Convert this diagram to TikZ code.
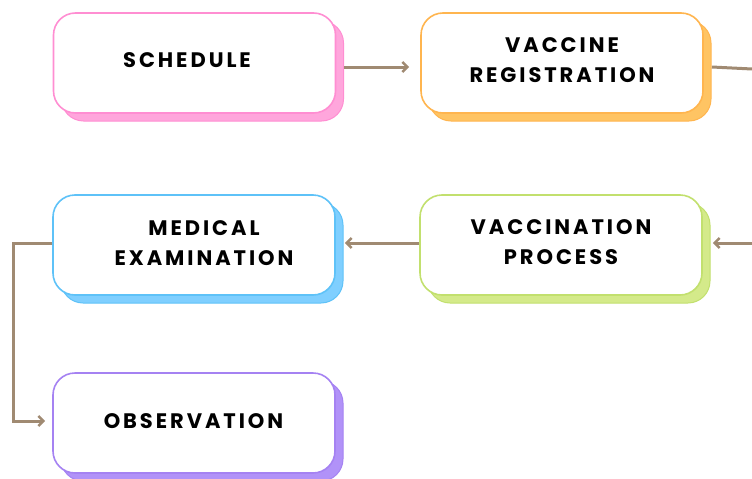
\documentclass[tikz,border=0pt]{standalone}
\usepackage{fontspec}
\newfontfamily\lblfont{Poppins}[LetterSpace=14]
\usetikzlibrary{shadows,arrows.meta,calc}
\definecolor{pinkB}{HTML}{FF8ED2}\definecolor{pinkS}{HTML}{FFA6DC}
\definecolor{orgB}{HTML}{FFB54F}\definecolor{orgS}{HTML}{FFC463}
\definecolor{bluB}{HTML}{5EC2F8}\definecolor{bluS}{HTML}{7FCFFF}
\definecolor{grnB}{HTML}{C2E06E}\definecolor{grnS}{HTML}{D4EA8A}
\definecolor{purB}{HTML}{A582F2}\definecolor{purS}{HTML}{B192F8}
\definecolor{conn}{HTML}{A08A72}
\tikzset{
  stepbox/.style n args={2}{draw=#1, fill=white, line width=1.6pt, rounded corners=22pt,
     minimum width=282pt, minimum height=100pt, inner sep=0pt,
     copy shadow={shadow xshift=8pt, shadow yshift=-8pt, fill=#2, draw=#1, line width=1pt}},
  lbl/.style={font=\lblfont\bfseries\fontsize{21pt}{30.5pt}\selectfont, align=center, text=black},
  conline/.style={draw=conn, line width=3pt},
  conarrow/.style={conline, -{Straight Barb[length=5pt,width=10pt,line width=2.6pt]}}
}
\begin{document}
\begin{tikzpicture}[x=1pt,y=-1pt]
\useasboundingbox (0,0) rectangle (752,479);
\node[stepbox={pinkB}{pinkS}] (sched) at (194.5,63) {};
\node[stepbox={orgB}{orgS}] (vreg) at (562,63) {};
\node[stepbox={bluB}{bluS}] (med) at (194,245) {};
\node[stepbox={grnB}{grnS}] (vproc) at (561,245) {};
\node[stepbox={purB}{purS}] (obs) at (194,423) {};
\node[lbl] (tsched) at (187,60) {SCHEDULE};
\node[lbl] (tvreg) at (562,60) {VACCINE\\REGISTRATION};
\node[lbl] (tmed) at (204,243) {MEDICAL\\EXAMINATION};
\node[lbl] (tvproc) at (561,242) {VACCINATION\\PROCESS};
\node[lbl] (tobs) at (193.5,421) {OBSERVATION};
\coordinate (outA) at (752,69);
\coordinate (inB) at (752,243);
\coordinate (bend1) at (13,243);
\coordinate (bend2) at (13,421);
\draw[conarrow] ($(sched.east)+(8,4)$) -- ($(vreg.west)+(-11,4)$);
\draw[conline] ($(vreg.east)+(8,4)$) -- (outA);
\draw[conarrow] (inB) -- ($(vproc.east)+(10,-2)$);
\draw[conarrow] ($(vproc.west)+(0,-2)$) -- ($(med.east)+(9,-2)$);
\draw[conarrow] ($(med.west)+(0,-2)$) -- (bend1) -- (bend2) -- ($(obs.west)+(-7,-2)$);
\end{tikzpicture}
\end{document}
